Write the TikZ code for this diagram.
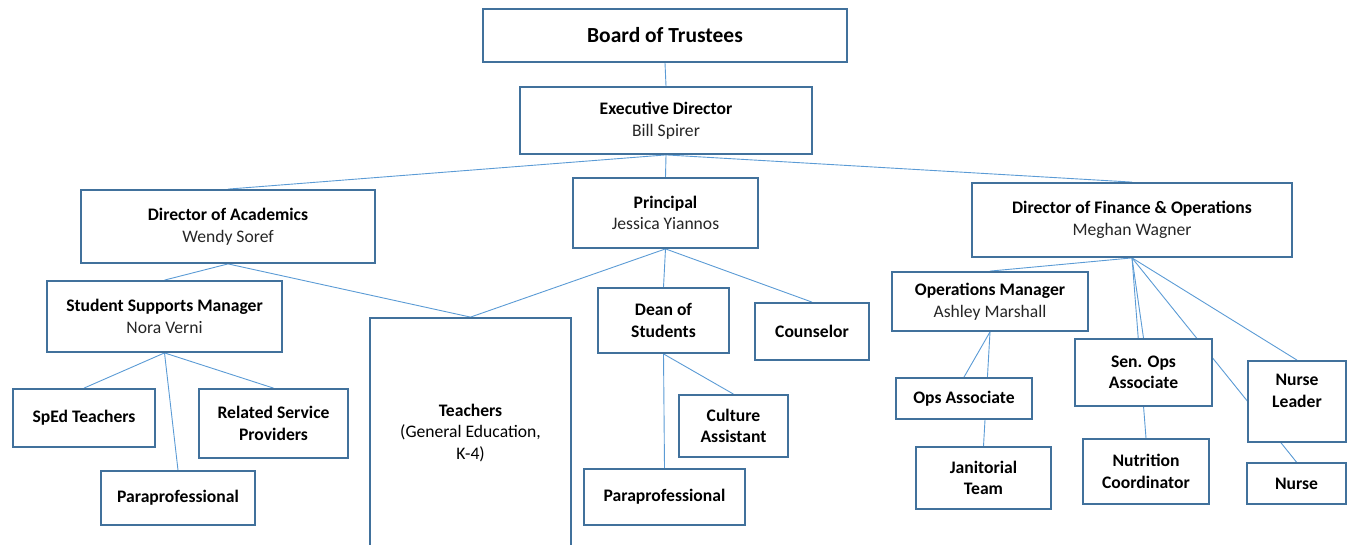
\documentclass[tikz,border=0pt]{standalone}
\usepackage{fontspec}
\setmainfont{Carlito}
\usetikzlibrary{backgrounds}
\definecolor{boxblue}{HTML}{41719C}
\definecolor{linkblue}{HTML}{5B9BD5}
\newcommand{\staff}[2]{\textbf{#1}\\{\color{black!85}#2}}

\begin{document}
\begin{tikzpicture}[x=1pt,y=-1pt]
	% `post' is used for every box of the chart.
	% `link' is used for the reporting lines behind the boxes.
	\tikzstyle{post} = [draw=boxblue,line width=1.8pt,fill=white,align=center,inner sep=0pt,font=\fontsize{17.6}{21.5}\selectfont]
	\tikzstyle{job} = [post,font=\fontsize{17.6}{21.5}\selectfont\bfseries]
	\tikzstyle{link} = [draw=linkblue,line width=0.9pt]
	\useasboundingbox (0,0) rectangle (1351,544);
	%
	% Board and executive.
	\node[job,minimum width=364pt,minimum height=53pt,font=\fontsize{21.5}{26}\selectfont\bfseries] (board) at (665,35.5) {Board of Trustees};
	\node[post,minimum width=292pt,minimum height=67pt] (exec) at (666,120.5) {\staff{Executive Director}{Bill Spirer}};
	% Directors and principal.
	\node[post,minimum width=294pt,minimum height=73pt] (acad) at (228,226.5) {\staff{Director of Academics}{Wendy Soref}};
	\node[post,minimum width=185pt,minimum height=70pt] (principal) at (665.5,213) {\staff{Principal}{Jessica Yiannos}};
	\node[post,minimum width=320pt,minimum height=74pt] (finance) at (1132,220) {\staff{Director of Finance \& Operations}{Meghan Wagner}};
	% Academics side.
	\node[post,minimum width=235pt,minimum height=71pt] (supports) at (164.5,316.5) {\staff{Student Supports Manager}{Nora Verni}};
	\node[job,minimum width=142pt,minimum height=58pt] (sped) at (84,418) {SpEd Teachers};
	\node[job,minimum width=149pt,minimum height=69pt] (related) at (273.5,423.5) {Related Service\\Providers};
	\node[job,minimum width=154pt,minimum height=54pt] (para1) at (178,498) {Paraprofessional};
	\node[post,minimum width=201pt,minimum height=230pt] (teachers) at (470.5,433) {\textbf{Teachers}\\(General Education,\\K-4)};
	% Principal side.
	\node[job,minimum width=131pt,minimum height=65pt] (dean) at (663.5,320.5) {Dean of\\Students};
	\node[job,minimum width=114pt,minimum height=57pt] (counselor) at (812,331.5) {Counselor};
	\node[job,minimum width=109pt,minimum height=62pt] (culture) at (733.5,426) {Culture\\Assistant};
	\node[job,minimum width=161pt,minimum height=56pt] (para2) at (664.5,497) {Paraprofessional};
	% Finance side.
	\node[post,minimum width=196pt,minimum height=59pt] (opsmgr) at (990,301.5) {\staff{Operations Manager}{Ashley Marshall}};
	\node[job,minimum width=136pt,minimum height=41pt] (opsassoc) at (964,398.5) {Ops Associate};
	\node[job,minimum width=135pt,minimum height=62pt] (janitor) at (983.5,478) {Janitorial\\Team};
	\node[job,minimum width=137pt,minimum height=67pt] (senops) at (1143.5,372.5) {Sen. Ops\\Associate};
	\node[job,minimum width=126pt,minimum height=65pt] (nutrition) at (1146,471.5) {Nutrition\\Coordinator};
	\node[job,minimum width=98pt,minimum height=81pt] (nurselead) at (1297,401.5) {Nurse\\Leader\\[0pt]};
	\node[job,minimum width=99pt,minimum height=41pt] (nurse) at (1296.5,483.5) {Nurse};
	%
	\begin{pgfonlayer}{background}
		% Draw reporting lines.
		\draw[link] (board.south) -- (exec.north);
		\draw[link] (exec.south) -- (acad.north);
		\draw[link] (exec.south) -- (principal.north);
		\draw[link] (exec.south) -- (finance.north);
		\draw[link] (acad.south) -- (supports.north);
		\draw[link] (acad.south) -- (teachers.north);
		\draw[link] (supports.south) -- (sped.north);
		\draw[link] (supports.south) -- (related.north);
		\draw[link] (supports.south) -- (para1.north);
		\draw[link] (principal.south) -- (teachers.north);
		\draw[link] (principal.south) -- (dean.north);
		\draw[link] (principal.south) -- (counselor.north);
		\draw[link] (dean.south) -- (culture.north);
		\draw[link] (dean.south) -- (para2.north);
		\draw[link] (finance.south) -- (opsmgr.north);
		\draw[link] (finance.south) -- (senops.north);
		\draw[link] (finance.south) -- (nutrition.north);
		\draw[link] (finance.south) -- (nurselead.north);
		\draw[link] (finance.south) -- (nurse.north);
		\draw[link] (opsmgr.south) -- (opsassoc.north);
		\draw[link] (opsmgr.south) -- (janitor.north);
	\end{pgfonlayer}
%
\end{tikzpicture}
\end{document}
